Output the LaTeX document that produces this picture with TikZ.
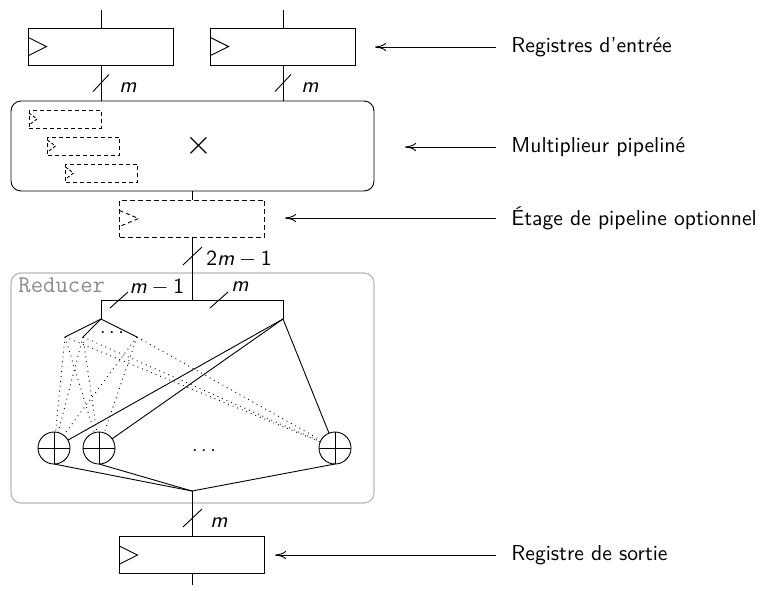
\documentclass[tikz,border=0pt]{standalone}
\usepackage{fontspec}
\usetikzlibrary{calc,arrows.meta}
\newcommand{\spdots}{.\kern1.6pt.\kern1.6pt.}
\begin{document}
\begin{tikzpicture}[x=0.5pt,y=-0.5pt,line width=0.45pt,
  every node/.style={font=\sffamily\fontsize{10.8}{13}\selectfont},
  reg/.style={draw,rectangle,minimum width=72.5pt,minimum height=18.5pt,inner sep=0pt,outer sep=0pt},
  dreg/.style={reg,dash pattern=on 2.5pt off 1.5pt},
  minireg/.style={draw,rectangle,dash pattern=on 2pt off 1.5pt,minimum width=36pt,minimum height=9pt,inner sep=0pt,outer sep=0pt},
  adder/.style={draw,circle,minimum size=16pt,inner sep=0pt,outer sep=0pt,
    path picture={\draw (path picture bounding box.north) -- (path picture bounding box.south)
                        (path picture bounding box.west) -- (path picture bounding box.east);}},
  lab/.style={anchor=west,inner sep=0pt,inner xsep=7.5pt},
  buslab/.style={inner sep=0pt},
  fan/.style={dotted},
  callout/.style={-{To[length=5.5pt,width=4pt]}},
  redbox/.style={draw=black!28,line width=0.6pt,rounded corners=5pt},
]
\useasboundingbox (0,0) rectangle (760,590);

% input registers
\node[reg] (r1) at (101,46.5) {};
\node[reg] (r2) at (283,46.5) {};
\coordinate (in1) at (101,10);
\coordinate (in2) at (283,10);
\draw (in1) -- (r1.north);
\draw (in2) -- (r2.north);
\draw ([yshift=4.5pt]r1.west) -- ([xshift=9pt]r1.west) -- ([yshift=-4.5pt]r1.west);
\draw ([yshift=4.5pt]r2.west) -- ([xshift=9pt]r2.west) -- ([yshift=-4.5pt]r2.west);

% multiplier
\node[draw,rectangle,rounded corners=5pt,minimum width=181.5pt,minimum height=45pt,inner sep=0pt,outer sep=0pt] (mult) at (192.5,146) {};
\node (times) at (199,146) {\LARGE$\times$};
\node[minireg] (m1) at (65,119) {};
\node[minireg] (m2) at (83.5,146) {};
\node[minireg] (m3) at (101.5,173) {};
\foreach \m in {m1,m2,m3}
  \draw[dash pattern=on 1.5pt off 1pt] ([yshift=3pt]\m.west) -- ([xshift=4pt]\m.west) -- ([yshift=-3pt]\m.west);

\draw (r1.south) -- (r1.south |- mult.north);
\draw (r2.south) -- (r2.south |- mult.north);
\coordinate (b1) at (101,83);
\coordinate (b2) at (283,83);
\draw ([shift={(-8,8.5)}]b1) -- ([shift={(8,-8.5)}]b1);
\draw ([shift={(-8,8.5)}]b2) -- ([shift={(8,-8.5)}]b2);
\node[buslab] (lm1) at (128,88) {\textit{m}};
\node[buslab] (lm2) at (310,88) {\textit{m}};

% optional pipeline stage
\node[dreg] (pipe) at (192,218.5) {};
\draw[dash pattern=on 2pt off 1.5pt] ([yshift=4pt]pipe.west) -- ([xshift=9.5pt]pipe.west) -- ([yshift=-4pt]pipe.west);
\draw (mult.south -| pipe.north) -- (pipe.north);

% reducer
\node[redbox,minimum width=181.5pt,minimum height=115pt,inner sep=0pt,outer sep=0pt] (red) at (192.5,388) {};
\node[anchor=west,inner sep=0pt,text=black!45,font=\ttfamily\fontsize{12}{14}\selectfont] (redlab) at (18,285) {Reducer};

\coordinate (top) at (192,300);
\coordinate (bl) at (101,300);
\coordinate (br) at (283,300);
\coordinate (L) at (101,319);
\coordinate (R) at (283,319);
\draw (pipe.south) -- (top);
\draw (bl) -- (br);
\draw (bl) -- (L);
\draw (br) -- (R);
\coordinate (b3) at (192.5,256);
\draw ([shift={(-9.5,9)}]b3) -- ([shift={(9.5,-9)}]b3);
\node[buslab] (l2m) at (239,259) {2\textit{m}\hspace{2.4pt}$-$\hspace{2.4pt}1};
\coordinate (b4) at (119,300);
\coordinate (b5) at (219,300);
\draw ([shift={(-9,8)}]b4) -- ([shift={(9,-8)}]b4);
\draw ([shift={(-9,8)}]b5) -- ([shift={(9,-8)}]b5);
\node[buslab] (lm3) at (157,287) {\textit{m}\hspace{2.4pt}$-$\hspace{2.4pt}1};
\node[buslab] (lm4) at (240,287) {\textit{m}};

\coordinate (a1) at (65,337);
\coordinate (a2) at (83,337);
\coordinate (a3) at (137,337);
\node[inner sep=0pt] (fdots) at (112,333) {\spdots};
\draw (L) -- (a1);
\draw (L) -- (a2);
\draw (L) -- (a3);

\node[adder] (s1) at (54,448) {};
\node[adder] (s2) at (99,448) {};
\node[adder] (s3) at (335,448) {};
\node[inner sep=0pt] (sdots) at (204,451) {\spdots};

\foreach \a in {a1,a2,a3}
  \foreach \s in {s1,s2,s3}
    \draw[fan] (\a) -- (\s);
\foreach \s in {s1,s2,s3}
  \draw (R) -- (\s);

\coordinate (B) at (192,491);
\foreach \s in {s1,s2,s3}
  \draw (\s.south) -- (B);

% output register
\node[reg] (out) at (192,555) {};
\draw ([yshift=4.5pt]out.west) -- ([xshift=9pt]out.west) -- ([yshift=-4.5pt]out.west);
\draw (B) -- (out.north);
\coordinate (outend) at (192,585);
\draw (out.south) -- (outend);
\coordinate (b6) at (192.5,518);
\draw ([shift={(-9.5,9)}]b6) -- ([shift={(9.5,-9)}]b6);
\node[buslab] (lm5) at (219,523) {\textit{m}};

% side labels
\node[lab] (t1) at (496,47) {Registres d'entrée};
\node[lab] (t2) at (496,147) {Multiplieur pipeliné};
\node[lab] (t3) at (496,218) {Étage de pipeline optionnel};
\node[lab] (t4) at (496,555) {Registre de sortie};
\coordinate (p1) at (375,47);
\coordinate (p2) at (405,147);
\coordinate (p3) at (285,218);
\coordinate (p4) at (275,555);
\draw[callout] (t1.west) -- (p1);
\draw[callout] (t2.west) -- (p2);
\draw[callout] (t3.west) -- (p3);
\draw[callout] (t4.west) -- (p4);
\end{tikzpicture}
\end{document}
